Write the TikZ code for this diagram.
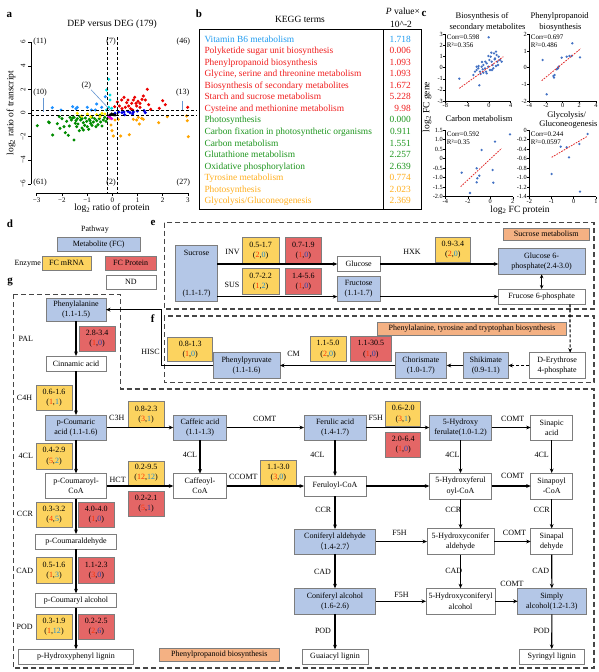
\documentclass[tikz,border=0pt]{standalone}
\usepackage{fontspec}
\setmainfont{Liberation Serif}
\newfontfamily\cjk{Noto Sans CJK SC}
\usetikzlibrary{arrows.meta,calc}
\definecolor{metb}{RGB}{180,199,231}
\definecolor{yelb}{RGB}{252,211,95}
\definecolor{redbx}{RGB}{228,102,102}
\definecolor{orgb}{RGB}{244,177,131}
\definecolor{boxgray}{RGB}{125,125,125}
\definecolor{framegray}{RGB}{70,70,70}
\definecolor{nred}{RGB}{255,50,0}
\definecolor{nblue}{RGB}{30,140,210}
\definecolor{nnavy}{RGB}{40,70,170}
\definecolor{kblue}{RGB}{30,155,240}
\definecolor{kred}{RGB}{240,30,30}
\definecolor{kgreen}{RGB}{30,150,30}
\definecolor{korange}{RGB}{255,175,30}
\definecolor{dred}{RGB}{235,0,0}
\definecolor{dgreen}{RGB}{0,140,0}
\definecolor{dblue}{RGB}{0,0,230}
\definecolor{dorange}{RGB}{255,165,0}
\definecolor{dsky}{RGB}{30,144,255}
\definecolor{dyellow}{RGB}{255,235,0}
\definecolor{dcyan}{RGB}{0,225,225}
\definecolor{dmag}{RGB}{230,0,230}
\definecolor{pblue}{RGB}{68,114,196}
\definecolor{regred}{RGB}{225,40,40}
\definecolor{lineblue}{RGB}{100,150,210}
\newcommand\mybx[6]{\node[#1,minimum width={#4-(#2)},minimum height={#5-(#3)}] (#6) at ({(#2+#4)/2},{(#3+#5)/2})}
\newcommand\numy[2]{(\textcolor{nred}{#1},\textcolor{nblue}{#2})}
\newcommand\numr[2]{(\textcolor{nred}{#1},\textcolor{nnavy}{#2})}
\newcommand\krow[4]{\node[tab,anchor=base west,text=#4] (kt#1) at (204.3,{42+11.56*#1}) {#2};\node[tab,anchor=base east,text=#4] (kv#1) at (411,{42+11.56*#1}) {#3};}
\newcommand\dotsA[2]{\foreach \xa/\ya in {#2} {\fill[#1] (\xa/3,\ya/3) circle[radius=1.7pt];}}
\newcommand\dotsC[2]{\foreach \xa/\ya in {#2} {\fill[#1] (420+\xa/3,\ya/3) circle[radius=1.3pt];}}
\tikzset{
 bx/.style={draw=boxgray, line width=0.8pt, inner sep=0pt, outer sep=0pt, align=center, font=\fontsize{8}{10.2}\selectfont},
 met/.style={bx, fill=metb},
 wht/.style={bx, fill=white},
 yel/.style={bx, fill=yelb},
 redb/.style={bx, fill=redbx},
 org/.style={bx, fill=orgb},
 lab/.style={inner sep=0pt, font=\fontsize{8}{9.5}\selectfont},
 tab/.style={inner sep=0pt, font=\fontsize{9.4}{11}\selectfont},
 ttl/.style={inner sep=0pt, font=\fontsize{9.5}{11}\selectfont},
 ctl/.style={inner sep=0pt, font=\fontsize{8.5}{10}\selectfont},
 tk/.style={inner sep=0pt, font=\fontsize{6.3}{7}\selectfont},
 cor/.style={inner sep=0pt, anchor=west, font=\fontsize{7}{8}\selectfont},
 plab/.style={inner sep=0pt, font=\fontsize{11}{12}\selectfont\bfseries},
 arr/.style={line width=1.1pt, -{Stealth[length=4.5pt,width=3.8pt]}},
 darr/.style={arr, dash pattern=on 3pt off 2pt},
 dframe/.style={draw=framegray, line width=1.1pt, dash pattern=on 5pt off 3pt},
 axl/.style={line width=0.6pt},
 adash/.style={line width=0.9pt, dash pattern=on 3pt off 2pt},
 regl/.style={regred, line width=0.8pt, dash pattern=on 1.6pt off 1.2pt},
}
\begin{document}
\begin{tikzpicture}[x=1pt,y=-1pt]
\useasboundingbox (0,0) rectangle (599,672);
\fill[white] (0,0) rectangle (599,672);

% ================= panel a =================
\node[plab] (la) at (9.3,15) {a};
\node[ttl] (atitle) at (112,24) {DEP versus DEG (179)};
\draw[axl] (31,42.2) -- (31,183.8);
\foreach \yy/\t in {42.2/6,65.8/4,89.4/2,113/0,136.6/−2,160.2/−4,183.8/−6}{
  \draw[axl] (31,\yy) -- (28,\yy);
  \node[tk,rotate=90,font=\fontsize{7}{8}\selectfont] at (23,\yy) {\t};}
\draw[axl] (36.7,193) -- (187.9,193);
\foreach \xx/\t in {36.7/−3,61.9/−2,87.1/−1,112.3/0,137.5/1,162.7/2,187.9/3}{
  \draw[axl] (\xx,193) -- (\xx,196);
  \node[tk,font=\fontsize{7}{8}\selectfont] at (\xx,200.5) {\t};}
\node[ttl,rotate=90] (aylab) at (11,113) {log\textsubscript{2} ratio of transcript};
\node[ttl] (axlab) at (112,208.5) {log\textsubscript{2} ratio of protein};
% scatter
\dotsA{dgreen}{112/377,146/366,148/368,158/405,172/371,178/350,196/398,205/406,208/378,210/352,214/360,218/354,222/352,222/420,228/362,230/380,234/372,238/392,242/360,246/384,250/368,256/354,260/364,262/380,268/358,272/370,276/352,280/366,284/356,288/380,290/362,294/374,298/356,302/366,306/378,310/360,314/352,318/364,322/356,232/356,240/350,254/376,266/388,276/376,200/364,186/356,192/380,226/370,250/390,300/346,180/385,246/356,270/362}
\dotsA{dred}{344/320,352/306,358/318,365/300,372/292,376/322,380/308,386/318,392/326,395/310,400/300,404/292,410/318,414/304,420/310,426/298,430/288,436/300,442/268,446/314,452/328,478/325,488/302,496/314,563/322,366/326,398/330,420/322,408/310,384/300}
\dotsA{dblue}{345/340,356/336,366/338,374/344,384/334,390/338,400/336,412/333,432/332,436/338,372/336,398/342}
\dotsA{dorange}{330/355,333/375,336/392,340/408,362/408,388/404,400/358,410/360,418/372,425/355,430/358,476/368,502/350,560/348,562/362,565/410,345/360,355/358,415/352}
\dotsA{dsky}{157/323,183/330,218/320,228/326,262/322,274/330,290/312,316/290,305/322,286/330,232/322}
\dotsA{dcyan}{326/238,320/270,330/285,330/300,335/325,326/322,320/330}
\dotsA{dyellow}{232/340,245/348,262/342,272/350,290/344,300/350,315/342,306/340}
\dotsA{dmag}{330/352,335/356,326/348}
\dotsA{black}{335/342,340/344,345/345,330/345}
\draw[adash] (107.3,37) -- (107.3,193);
\draw[adash] (117.3,37) -- (117.3,193);
\draw[adash] (31,110.6) -- (197,110.6);
\draw[adash] (31,115.4) -- (197,115.4);
\node[lab] (n11) at (40,41.7) {(11)};
\node[lab] (n7) at (111,41.7) {(7)};
\node[lab] (n46) at (183.3,41.7) {(46)};
\node[lab] (n10) at (40,92.7) {(10)};
\node[lab] (n13) at (182.7,92.7) {(13)};
\node[lab] (n61) at (40,182.7) {(61)};
\node[lab] (n2b) at (111,182.7) {(2)};
\node[lab] (n27) at (183.3,182.7) {(27)};
\node[lab] (n2a) at (86.3,86) {(2)};
\draw[lineblue,line width=0.6pt] (n2a.south east) -- (111,111);
\draw[lineblue,line width=0.8pt] (n10.south east) ++(-3.5,1) -- ++(0,14);
\draw[lineblue,line width=0.8pt] (n13.south) ++(0,4) -- ++(0,9);

% ================= panel b =================
\node[plab] (lb) at (199,14) {b};
\draw[line width=0.8pt] (199,29) rectangle (421,209);
\draw[line width=0.8pt] (383.7,29) -- (383.7,209);
\node[ttl] (kegg) at (300,19) {KEGG terms};
\node[ttl] (pv1) at (403,11.7) {\textit{P} value×};
\node[ttl] (pv2) at (401,24) {10\textasciicircum-2};
\krow{0}{Vitamin B6 metabolism}{1.718}{kblue}
\krow{1}{Polyketide sugar unit biosynthesis}{0.006}{kred}
\krow{2}{Phenylpropanoid biosynthesis}{1.093}{kred}
\krow{3}{Glycine, serine and threonine metabolism}{1.093}{kred}
\krow{4}{Biosynthesis of secondary metabolites}{1.672}{kred}
\krow{5}{Starch and sucrose metabolism}{5.228}{kred}
\krow{6}{Cysteine and methionine metabolism}{9.98}{kred}
\krow{7}{Photosynthesis}{0.000}{kgreen}
\krow{8}{Carbon fixation in photosynthetic organisms}{0.911}{kgreen}
\krow{9}{Carbon metabolism}{1.551}{kgreen}
\krow{10}{Glutathione metabolism}{2.257}{kgreen}
\krow{11}{Oxidative phosphorylation}{2.639}{kgreen}
\krow{12}{Tyrosine metabolism}{0.774}{korange}
\krow{13}{Photosynthesis}{2.023}{korange}
\krow{14}{Glycolysis/Gluconeogenesis}{2.369}{korange}

% ================= panel c =================
\node[plab] (lc) at (424,14) {c};
\node[ctl] (c1a) at (482,16) {Biosynthesis of};
\node[ctl] (c1b) at (487.5,27) {secondary metabolites};
\node[ctl] (c2a) at (559.7,16) {Phenylpropanoid};
\node[ctl] (c2b) at (560.5,27) {biosynthesis};
\node[ctl] (c3a) at (479,118.3) {Carbon metabolism};
\node[ctl] (c4a) at (566.7,115) {Glycolysis/};
\node[ctl] (c4b) at (568.5,124.7) {Gluconeogenesis};
\node[ttl,rotate=90] (cylab) at (427,107) {log\textsubscript{2} FC gene};
\node[ttl] (cxlab) at (520,210) {log\textsubscript{2} FC protein};
% plot 1
\draw[axl] (445.3,34.3) -- (445.3,101) -- (510.7,101);
\foreach \yy/\t in {34.3/3,45.4/2,56.5/1,67.7/0,78.8/-1,89.9/-2,101/-3}{\draw[axl] (445.3,\yy) -- (443.3,\yy); \node[tk,anchor=east] at (443,\yy) {\t};}
\foreach \xx/\t in {445.3/-8,467.1/-4,488.9/0,510.7/4}{\draw[axl] (\xx,101) -- (\xx,103); \node[tk,anchor=north] at (\xx,103.5) {\t};}
\dotsC{pblue}{118/236,178/256,206/112,160/225,165/215,170/210,175/205,180/215,185/200,190/195,195/205,198/215,200/190,205/200,208/180,212/170,215/185,218/195,222/160,225/175,228/155,230/165,232/185,236/170,240/180,245/185,190/218,182/222,176/198,186/186,196/185,210/210,200/220,216/210,228/198,220/205,205/168,214/158,224/178,234/195,170/200,188/208}
\draw[regl] (420+118/3,265/3) -- (420+250/3,170/3);
\node[cor] (cr1) at (446.7,37.7) {Corr=0.598};
\node[cor] (r1) at (446.7,45.7) {R²=0.356};
% plot 2
\draw[axl] (529.3,34.3) -- (529.3,101) -- (596,101);
\foreach \yy/\t in {34.3/2,51/1,67.7/0,84.3/-1,101/-2}{\draw[axl] (529.3,\yy) -- (527.3,\yy); \node[tk,anchor=east] at (527,\yy) {\t};}
\foreach \xx/\t in {529.3/-4,546/-2,562.7/0,579.3/2,596/4}{\draw[axl] (\xx,101) -- (\xx,103); \node[tk,anchor=north] at (\xx,103.5) {\t};}
\dotsC{pblue}{368/180,380/283,400/228,402/233,404/225,410/208,414/205,416/200,425/173,440/170,448/168,455/168,457/130,480/172}
\draw[regl] (420+365/3,242/3) -- (420+482/3,146/3);
\node[cor] (cr2) at (530.7,37.7) {Corr=0.697};
\node[cor] (r2) at (530.7,45.7) {R²=0.486};
% plot 3
\draw[axl] (445.3,130) -- (445.3,196.7) -- (512.8,196.7);
\foreach \yy/\t in {130/1.5,139.5/1.0,149/0.5,158.6/0,168.1/-0.5,177.6/-1.0,187.2/-1.5,196.7/-2.0}{\draw[axl] (445.3,\yy) -- (443.3,\yy); \node[tk,anchor=east] at (443,\yy) {\t};}
\foreach \xx/\t in {445.3/-4,467.8/-2,490.3/0,512.8/2}{\draw[axl] (\xx,196.7) -- (\xx,198.7); \node[tk,anchor=north] at (\xx,199) {\t};}
\dotsC{pblue}{125/518,150/579,170/505,172/535,178/527,185/450,170/547,218/510,220/548,225/425,270/403}
\draw[regl] (420+122/3,560/3) -- (420+245/3,445/3);
\node[cor] (cr3) at (446.7,134) {Corr=0.592};
\node[cor] (r3) at (446.7,142) {R²=0.35};
% plot 4
\draw[axl] (529.3,130) -- (529.3,196.7) -- (596,196.7);
\foreach \yy/\t in {130/0,139.5/-0.2,149/-0.4,158.6/-0.6,168.1/-0.8,177.6/-1.0,187.2/-1.2,196.7/-1.4}{\draw[axl] (529.3,\yy) -- (527.3,\yy); \node[tk,anchor=east] at (527,\yy) {\t};}
\foreach \xx/\t in {529.3/-2,551.5/-1,573.7/0,596/1}{\draw[axl] (\xx,196.7) -- (\xx,198.7); \node[tk,anchor=north] at (\xx,199) {\t};}
\dotsC{pblue}{395/522,422/440,440/442,447/472,478/432,480/575,503/402}
\draw[regl] (420+395/3,472/3) -- (420+500/3,410/3);
\node[cor] (cr4) at (530.7,134) {Corr=0.244};
\node[cor] (r4) at (530.7,142) {R²=0.0597};

% ================= panel d =================
\node[plab] (ld) at (10,223.3) {d};
\node[lab] (pathw) at (95,229.5) {Pathway};
\mybx{met}{57.3}{237.3}{140}{251.7}{legmet} {Metabolite (FC)};
\node[lab,anchor=east] (enz) at (41,263.5) {Enzyme};
\mybx{yel}{42}{256}{91.3}{270}{legm} {FC mRNA};
\mybx{redb}{105.3}{256}{156}{270}{legp} {FC Protein};
\mybx{wht}{106}{275}{156}{289.3}{legnd} {ND};

% ================= frames =================
\draw[dframe] (164.3,222.7) rectangle (594,309);
\draw[dframe] (164.3,316) rectangle (594,382.5);
\draw[dframe] (13.3,294.3) -- (120.7,294.3) -- (120.7,389) -- (594,389) -- (594,668) -- (13.3,668) -- cycle;

% ================= panel e =================
\node[plab] (le) at (153,223.3) {e};
\mybx{met}{175.7}{245.7}{217.3}{301.7}{suc} {Sucrose\\[29pt](1.1-1.7)};
\node[lab] (inv) at (232.5,251.7) {INV};
\node[lab] (sus) at (232,285) {SUS};
\mybx{yel}{242.3}{237.3}{279}{263.3}{invm} {0.5-1.7\\\numy{2}{0}};
\mybx{yel}{242.3}{268.3}{279}{294.3}{susm} {0.7-2.2\\\numy{1}{2}};
\mybx{redb}{285}{237.3}{321.7}{263.3}{invp} {0.7-1.9\\\numr{1}{0}};
\mybx{redb}{285}{268.3}{321.7}{294.3}{susp} {1.4-5.6\\\numr{1}{0}};
\mybx{wht}{337.3}{256.5}{380}{271.5}{glc} {Glucose};
\mybx{met}{337.3}{276}{380}{301}{fru} {Fructose\\(1.1-1.7)};
\node[lab] (hxk) at (412,251.7) {HXK};
\mybx{yel}{435.7}{237.3}{470}{262.7}{hxkm} {0.9-3.4\\\numy{2}{0}};
\mybx{met}{498.3}{248.3}{585}{274.3}{g6p} {Glucose 6-\\phosphate(2.4-3.0)};
\mybx{wht}{498.3}{289}{585}{304.3}{f6p} {Frucose 6-phosphate};
\mybx{org}{503.3}{228.3}{589.3}{240}{sucmet} {Sucrose metabolism};
\draw[arr] (suc.east |- glc) -- (glc);
\draw[arr] (glc) -- (g6p.west |- glc);
\draw[arr] (suc.east |- f6p) -- (fru.west |- f6p);
\draw[arr] (fru.east |- f6p) -- (f6p);
\draw[line width=1.1pt,{Stealth[length=4pt,width=3.6pt]}-{Stealth[length=4pt,width=3.6pt]}] (g6p) -- (f6p);

% ================= panel f =================
\node[plab] (lf) at (152.7,318.3) {f};
\mybx{org}{377.3}{322.7}{566.7}{335}{phebio} {Phenylalanine, tyrosine and tryptophan biosynthesis};
\node[lab] (cm) at (293.5,354) {CM};
\mybx{yel}{310}{336.7}{346}{361.7}{cmm} {1.1-5.0\\\numy{2}{0}};
\mybx{redb}{350}{336.7}{391.7}{361.7}{cmp} {1.1-30.5\\\numr{1}{0}};
\mybx{met}{395}{352.7}{446.7}{378.3}{cho} {Chorismate\\(1.0-1.7)};
\mybx{met}{463.3}{352.7}{508.3}{378.3}{shi} {Shikimate\\(0.9-1.1)};
\mybx{wht}{529.3}{352.7}{585}{378.3}{de4p} {D-Erythrose\\4-phosphate};
\node[lab] (hisc) at (150.5,352.3) {HISC};
\mybx{yel}{167.7}{337.7}{212.7}{361.7}{hiscm} {0.8-1.3\\\numy{1}{0}};
\mybx{met}{213.3}{352.7}{280}{378.3}{ppy} {Phenylpyruvate\\(1.1-1.6)};
\draw[darr] ($(f6p.south)+(28.3,0)$) -- ($(de4p.north)+(13,0)$);
\draw[darr] (de4p) -- (shi);
\draw[arr] (shi) -- (cho);
\draw[arr] (cho) -- (ppy);

% ================= panel g =================
\node[plab] (lg) at (10,282.3) {g};
\mybx{met}{46}{298.3}{106}{321}{phe} {Phenylalanine\\(1.1-1.5)};
\coordinate (turn) at (161.3,365.5);
\draw[arr] (ppy.west) -- (turn) |- (phe.east);
\node[lab] (pal) at (25.8,339.3) {PAL};
\mybx{redb}{79.3}{326}{115}{351.7}{palp} {2.8-3.4\\\numr{1}{0}};
\mybx{wht}{46}{356}{106}{371}{cin} {Cinnamic acid};
\node[lab] (c4h) at (24.5,398.3) {C4H};
\mybx{yel}{36}{385}{72}{410}{c4hm} {0.6-1.6\\\numy{1}{1}};
\mybx{met}{45.3}{415}{106.7}{440}{pcou} {p-Coumaric\\acid (1.1-1.6)};
\node[lab] (c3h) at (116.8,418.3) {C3H};
\mybx{yel}{128.3}{401.7}{164}{427.3}{c3hm} {0.8-2.3\\\numy{3}{1}};
\mybx{met}{173.3}{415}{226.7}{440}{caf} {Caffeic acid\\(1.1-1.3)};
\node[lab] (comt1) at (264.8,419.3) {COMT};
\mybx{met}{304}{415}{366}{440}{fer} {Ferulic acid\\(1.4-1.7)};
\node[lab] (f5h1) at (375.8,418.3) {F5H};
\mybx{yel}{385.7}{401.7}{420.7}{426.7}{f5hm} {0.6-2.0\\\numy{3}{1}};
\mybx{redb}{385.7}{432.3}{420.7}{457.3}{f5hp} {2.0-6.4\\\numr{1}{0}};
\mybx{met}{429.3}{415}{491.7}{440}{hfer} {5-Hydroxy\\ferulate(1.0-1.2)};
\node[lab] (comt2) at (512.8,419.3) {COMT};
\mybx{wht}{530.7}{415}{572.7}{440}{sin} {Sinapic\\acid};
% row 2
\node[lab] (cl4a) at (25.8,456) {4CL};
\mybx{yel}{36}{443.3}{72}{469}{cl4m} {0.4-2.9\\\numy{5}{2}};
\mybx{wht}{45.3}{473.3}{106.7}{498.7}{pcoa} {p-Coumaroyl-\\CoA};
\node[lab] (hct) at (117.7,480) {HCT};
\mybx{yel}{128.3}{461}{164}{485}{hctm} {0.2-9.5\\\numy{12}{12}};
\mybx{redb}{128.3}{491}{164}{516}{hctp} {0.2-2.1\\\numr{5}{1}};
\node[lab] (cl4b) at (190,455) {4CL};
\mybx{wht}{173.3}{473.5}{226.7}{498.5}{cafcoa} {Caffeoyl-\\CoA};
\node[lab] (ccomt) at (243.3,476.7) {CCOMT};
\mybx{yel}{260}{460}{296.7}{485}{ccomtm} {1.1-3.0\\\numy{3}{0}};
\node[lab] (cl4c) at (317.5,455) {4CL};
\mybx{wht}{304}{476}{366}{496}{fercoa} {Feruloyl-CoA};
\node[lab] (cl4d) at (452.5,455) {4CL};
\mybx{wht}{429.3}{473}{491.7}{499}{hfcoa} {5-Hydroxyferul\\oyl-CoA};
\node[lab] (comt3) at (512.8,475.7) {COMT};
\node[lab] (cl4e) at (541.7,455) {4CL};
\mybx{wht}{530.7}{473}{572.7}{499}{sincoa} {Sinapoyl\\-CoA};
% left column lower
\node[lab] (ccr1) at (25,514.3) {CCR};
\mybx{yel}{36}{502.3}{72}{527.7}{ccrm} {0.3-3.2\\\numy{4}{5}};
\mybx{redb}{78.3}{502.3}{114.3}{527.7}{ccrp} {4.0-4.0\\\numr{1}{0}};
\mybx{wht}{35.7}{534}{116.3}{549}{pcald} {p-Coumaraldehyde};
\node[lab] (cad1) at (24.7,571) {CAD};
\mybx{yel}{36}{557.3}{72}{583.3}{cadm} {0.5-1.6\\\numy{1}{3}};
\mybx{redb}{78.3}{557.3}{114.3}{583.3}{cadp} {1.1-2.3\\\numr{3}{0}};
\mybx{wht}{35.3}{593.3}{116.7}{607.7}{pcalc} {p-Coumaryl alcohol};
\node[lab] (pod1) at (24.7,626.7) {POD};
\mybx{yel}{36}{614.3}{72}{639.3}{podm} {0.3-1.9\\\numy{1}{12}};
\mybx{redb}{78.3}{614.3}{114.3}{639.3}{podp} {0.2-2.5\\\numr{2}{6}};
\mybx{wht}{18.7}{649.3}{133.3}{664.3}{hlig} {p-Hydroxyphenyl lignin};
\mybx{org}{159.3}{648.3}{279.3}{661.7}{ppbio} {Phenylpropanoid biosynthesis};
% middle / right lower
\node[lab] (ccr2) at (323.3,510) {CCR};
\node[lab] (ccr3) at (453.3,510) {CCR};
\node[lab] (ccr4) at (541.7,510) {CCR};
\mybx{met}{294.3}{529}{375.7}{554}{conald} {Coniferyl aldehyde\\{\cjk （}1.4-2.7{\cjk ）}};
\node[lab] (f5h2) at (399.5,533.3) {F5H};
\mybx{wht}{427}{528.5}{494}{554.5}{hcald} {5-Hydroxyconifer\\aldehyde};
\node[lab] (comt4) at (514.5,533.3) {COMT};
\mybx{wht}{530.7}{528.5}{572.7}{554.5}{sinald} {Sinapal\\dehyde};
\node[lab] (cad2) at (322.5,571.7) {CAD};
\node[lab] (cad3) at (453.8,571) {CAD};
\node[lab] (cad4) at (540.8,571) {CAD};
\mybx{met}{294.3}{588.3}{375.7}{614.3}{conalc} {Coniferyl alcohol\\(1.6-2.6)};
\node[lab] (f5h3) at (401.5,595) {F5H};
\mybx{wht}{426}{588.3}{495}{614.3}{hcalc} {5-Hydroxyconiferyl\\alcohol};
\node[lab] (comt5) at (512,584.3) {COMT};
\mybx{met}{517.7}{588.3}{586}{614.3}{simp} {Simply\\alcohol(1.2-1.3)};
\node[lab] (pod2) at (323,630.7) {POD};
\node[lab] (pod3) at (541.7,631) {POD};
\mybx{wht}{302}{649.3}{368}{664.3}{glig} {Guaiacyl lignin};
\mybx{wht}{519.5}{649}{584}{664.3}{slig} {Syringyl lignin};
% arrows g
\draw[arr] (phe) -- (cin);
\draw[arr] (cin) -- (pcou);
\draw[arr] (pcou) -- (pcoa);
\draw[arr] (pcoa) -- (pcald);
\draw[arr] (pcald) -- (pcalc);
\draw[arr] (pcalc) -- (hlig);
\draw[arr] (pcou) -- (caf);
\draw[arr] (caf) -- (fer);
\draw[arr] (fer) -- (hfer);
\draw[arr] (hfer) -- (sin);
\draw[arr] (pcoa) -- (cafcoa);
\draw[arr] (cafcoa) -- (fercoa);
\draw[arr] (fercoa) -- (hfcoa);
\draw[arr] (hfcoa) -- (sincoa);
\draw[arr] (conald) -- (hcald);
\draw[arr] (hcald) -- (sinald);
\draw[arr] (conalc) -- (hcalc);
\draw[arr] (hcalc) -- (simp);
\draw[arr] (caf) -- (cafcoa);
\draw[arr] (fer) -- (fercoa);
\draw[arr] (fercoa) -- (conald);
\draw[arr] (conald) -- (conalc);
\draw[arr] (conalc) -- (glig);
\draw[arr] (hfer) -- (hfcoa);
\draw[arr] (hfcoa) -- (hcald);
\draw[arr] (hcald) -- (hcalc);
\draw[arr] (sin) -- (sincoa);
\draw[arr] (sincoa) -- (sinald);
\draw[arr] (sinald) -- (simp);
\draw[arr] (simp) -- (slig);
\end{tikzpicture}
\end{document}
